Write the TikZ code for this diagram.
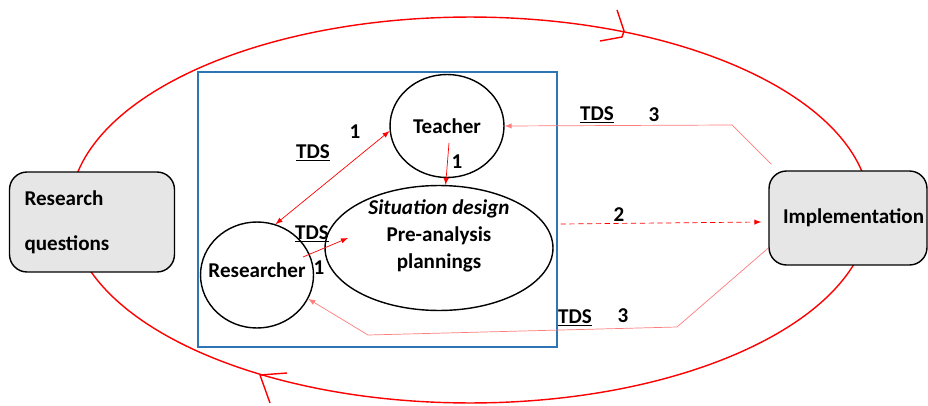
\documentclass[tikz,border=0pt]{standalone}
\usepackage{fontspec}
\setmainfont{Carlito}
\usepackage{tikz}
\usetikzlibrary{shapes, arrows, calc, positioning}

\definecolor{frameblue}{RGB}{46,117,182}
\definecolor{softred}{RGB}{255,125,125}
\definecolor{boxgray}{RGB}{230,230,230}

\begin{document}
\begin{tikzpicture}[>=latex, x=0.02cm, y=-0.02cm,
	font=\fontsize{12}{14}\selectfont\bfseries]
    \tikzstyle{actor} = [draw, thick, ellipse, inner sep=0pt]
    \tikzstyle{stage} = [draw, thick, rounded corners=3.5mm, fill=boxgray,
	align=left, inner xsep=0.3cm]
    \tikzstyle{tds} = [red, thin]
    \tikzstyle{back} = [softred, thin]

	\useasboundingbox (0,0) rectangle (928,405);

	% outer cycle
	\draw[red, thick] (470,210) ellipse [x radius=8cm, y radius=3.86cm];
	\draw[red, thick] (617,10) -- (624,31) -- (622,37) -- (600,41);
	\draw[red, thick] (287,373) -- (260,375) -- (270,403);

	% frame
	\draw[frameblue, very thick] (198,72) rectangle (557,347);

	\begin{scope}
		\path[->]
			node[actor, minimum width=2.28cm, minimum height=2.06cm,
				label=center:Teacher] (tea) at (447,126) {}
			node[actor, minimum width=2.26cm, minimum height=2.12cm,
				label={[yshift=0.1cm]center:Researcher}] (res) at (257,275) {}
			node[actor, minimum width=4.56cm, minimum height=2.5cm] (sit) at (439,248) {}
			node[align=center, font=\fontsize{12}{15.3}\selectfont\bfseries] (sitText) at (439,236)
				{\textit{Situation design}\\Pre-analysis\\plannings}

			node[stage, text width=2.7cm, minimum height=2cm,
				font=\fontsize{12}{25.5}\selectfont\bfseries] (rq) at (92,222) {Research\\questions}
			node[stage, text width=2.6cm, minimum height=1.88cm, inner xsep=0.28cm] (impl) at (848,218) {Implementation}

			(res.70) edge[tds, <->] (tea.185)
			($(tea.center)+(2,17)$) edge[tds] (sit.84)
			($(res.center)+(46,-18)$) edge[tds] ($(sit.center)+(-91,-10)$)
			($(sit.east)+(7,-24)$) edge[tds, densely dashed] ($(impl.west)+(-7,4)$)
		;

		\coordinate (topBend) at (732,125);
		\coordinate (lowBend) at (677,327);
		\coordinate (lowEnd) at (368,335);
		\draw[back, ->] ($(impl.north west)+(3,-6)$) -- (topBend) -- (tea.east);
		\draw[back, ->] ($(impl.west)+(0,30)$) -- (lowBend) -- (lowEnd) -- (res.-25);

		% labels
		\node (l1) at (355,132) {1};
		\node (t1) at (313,153) {\underline{TDS}};
		\node (l2) at (457,162) {1};
		\node (t2) at (312,234) {\underline{TDS}};
		\node (l3) at (319,268) {1};
		\node (l4) at (619,215) {2};
		\node (t5) at (597,115) {\underline{TDS}};
		\node (l5) at (654,115) {3};
		\node (t6) at (575,318) {\underline{TDS}};
		\node (l6) at (623,316) {3};
	\end{scope}
\end{tikzpicture}
\end{document}
